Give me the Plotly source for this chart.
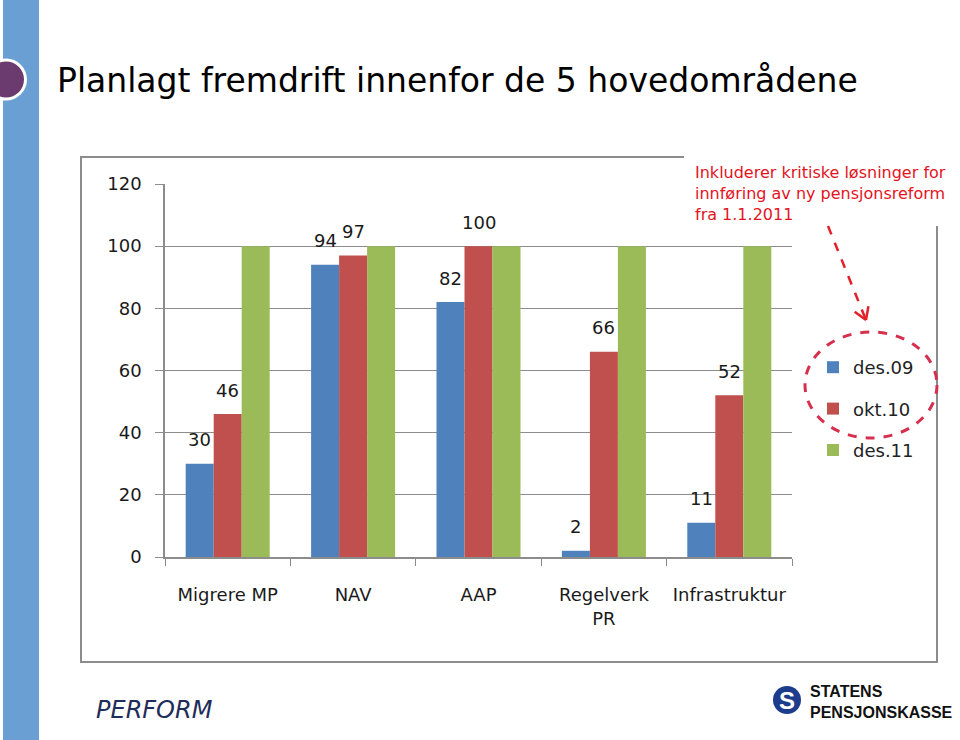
import math
import plotly.graph_objects as go

# ---- data ----
categories = ["Migrere MP", "NAV", "AAP", "Regelverk<br>PR", "Infrastruktur"]
series_names = ["des.09", "okt.10", "des.11"]
des09 = [30, 94, 82, 2, 11]
okt10 = [46, 97, 100, 66, 52]
des11 = [100, 100, 100, 100, 100]
show_labels = [True, True, False]
y_ticks = [0, 20, 40, 60, 80, 100, 120]

colors = ["#4f81bd", "#c0504d", "#9bbb59"]

W, H = 960, 740
PL, PR, PT, PB = 165, 792, 184, 557
BARGAP = 0.33


def px(x):
    return (x - PL) / (PR - PL)


def py(y):
    return (PB - y) / (PB - PT)


fig = go.Figure()
all_series = [des09, okt10, des11]
for i, (name, vals) in enumerate(zip(series_names, all_series)):
    fig.add_trace(go.Bar(
        x=categories, y=vals, name=name,
        marker=dict(color=colors[i], line=dict(width=0)),
        legendgroup=name,
    ))

# data labels anchored to the bar values (offset within the group)
bar_w = (PR - PL) / len(categories) * (1 - BARGAP) / len(series_names)
annotations = []
for i, vals in enumerate(all_series):
    if not show_labels[i]:
        continue
    for c, v in zip(categories, vals):
        annotations.append(dict(
            x=c, y=v, xref="x", yref="y", text=str(v), showarrow=False,
            xanchor="center", yanchor="middle", xshift=(i - 1) * bar_w, yshift=24,
            font=dict(family="DejaVu Sans", size=18, color="#1a1a1a")))

shapes = []
# left blue strip
shapes.append(dict(type="rect", xref="paper", yref="paper", x0=px(3), x1=px(39), y0=py(0), y1=py(740),
                   fillcolor="#6a9fd4", line=dict(width=0), layer="below"))
# purple circle with white ring
shapes.append(dict(type="circle", xref="paper", yref="paper", x0=px(6 - 21), x1=px(6 + 21), y0=py(79.5 + 21), y1=py(79.5 - 21),
                   fillcolor="white", line=dict(width=0), layer="above"))
shapes.append(dict(type="circle", xref="paper", yref="paper", x0=px(6 - 18), x1=px(6 + 18), y0=py(79.5 + 18), y1=py(79.5 - 18),
                   fillcolor="#6b3a6f", line=dict(width=0), layer="above"))
# chart frame
shapes.append(dict(type="rect", xref="paper", yref="paper", x0=px(81), x1=px(937), y0=py(662), y1=py(157),
                   fillcolor="rgba(0,0,0,0)", line=dict(color="#8c8c8c", width=2), layer="above"))
# white text box covering top-right of frame
shapes.append(dict(type="rect", xref="paper", yref="paper", x0=px(684), x1=px(960), y0=py(226), y1=py(145),
                   fillcolor="white", line=dict(width=0), layer="above"))
# dashed ellipse around legend entries
shapes.append(dict(type="circle", xref="paper", yref="paper", x0=px(805), x1=px(937), y0=py(438), y1=py(332),
                   fillcolor="rgba(0,0,0,0)", line=dict(color="#d6304f", width=3, dash="dash"), layer="above"))
# dashed arrow
ax0, ay0, ax1, ay1 = 828, 226, 866, 320
shapes.append(dict(type="line", xref="paper", yref="paper", x0=px(ax0), y0=py(ay0), x1=px(ax1), y1=py(ay1),
                   line=dict(color="#e3202a", width=2.5, dash="dash"), layer="above"))
ang = math.atan2(ay1 - ay0, ax1 - ax0)
for s in (-1, 1):
    a = ang + math.pi + s * math.radians(32)
    hx, hy = ax1 + 14 * math.cos(a), ay1 + 14 * math.sin(a)
    shapes.append(dict(type="line", xref="paper", yref="paper", x0=px(ax1), y0=py(ay1), x1=px(hx), y1=py(hy),
                       line=dict(color="#e3202a", width=2.5), layer="above"))
# SPK logo circle
shapes.append(dict(type="circle", xref="paper", yref="paper", x0=px(773), x1=px(801), y0=py(714), y1=py(686),
                   fillcolor="#1d3c8c", line=dict(width=0), layer="above"))

annotations += [
    dict(text="Planlagt fremdrift innenfor de 5 hovedområdene", xref="paper", yref="paper",
         x=px(55), y=py(80), xanchor="left", yanchor="middle", showarrow=False,
         font=dict(family="DejaVu Sans", size=33, color="#000000")),
    dict(text="Inkluderer kritiske løsninger for<br>innføring av ny pensjonsreform<br>fra 1.1.2011",
         xref="paper", yref="paper", x=px(693), y=py(161), xanchor="left", yanchor="top", align="left",
         showarrow=False, font=dict(family="DejaVu Sans", size=16, color="#e3141e")),
    dict(text="<i>PERFORM</i>", xref="paper", yref="paper", x=px(94), y=py(710), xanchor="left", yanchor="middle",
         showarrow=False, font=dict(family="DejaVu Sans", size=24, color="#1f2d5a")),
    dict(text="<b>S</b>", xref="paper", yref="paper", x=px(787), y=py(700), xanchor="center", yanchor="middle",
         showarrow=False, font=dict(family="Liberation Sans", size=24, color="white")),
    dict(text="<b>STATENS</b>", xref="paper", yref="paper", x=px(808), y=py(691), xanchor="left", yanchor="middle",
         showarrow=False, font=dict(family="Liberation Sans", size=16, color="#111111")),
    dict(text="<b>PENSJONSKASSE</b>", xref="paper", yref="paper", x=px(808), y=py(712), xanchor="left", yanchor="middle",
         showarrow=False, font=dict(family="Liberation Sans", size=16, color="#111111")),
]

fig.update_layout(
    width=W, height=H, autosize=False,
    margin=dict(l=PL, r=W - PR, t=PT, b=H - PB, pad=0),
    paper_bgcolor="white", plot_bgcolor="white",
    barmode="group", bargap=BARGAP, bargroupgap=0,
    showlegend=True,
    legend=dict(xref="container", yref="container", x=813 / W, y=1 - 349 / H, xanchor="left", yanchor="top",
                font=dict(family="DejaVu Sans", size=18, color="#222222"),
                bgcolor="rgba(0,0,0,0)", tracegroupgap=15, traceorder="grouped"),
    shapes=shapes, annotations=annotations,
    xaxis=dict(showline=True, linecolor="#8c8c8c", linewidth=1.5, ticks="outside", ticklen=7, tickcolor="#8c8c8c",
               tickson="boundaries", showgrid=False, ticklabelstandoff=21,
               tickfont=dict(family="DejaVu Sans", size=18, color="#1a1a1a")),
    yaxis=dict(range=[0, 120], tickvals=y_ticks, showline=True, linecolor="#8c8c8c", linewidth=1.5,
               ticks="outside", ticklen=8, tickcolor="#8c8c8c", showgrid=True, gridcolor="#8c8c8c", gridwidth=1,
               zeroline=False, ticklabelstandoff=10,
               tickfont=dict(family="DejaVu Sans", size=18, color="#1a1a1a")),
)

fig.write_html("out.html", config={"displayModeBar": False},
               post_script="document.body.style.margin='0';document.body.style.overflow='hidden';")
